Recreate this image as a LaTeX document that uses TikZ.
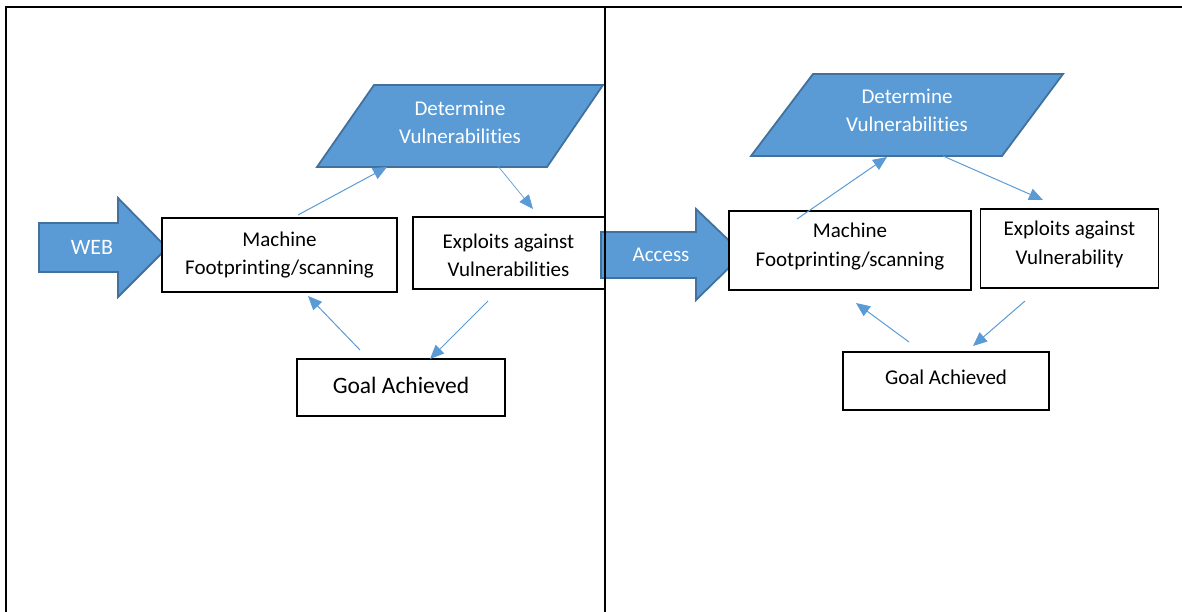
\documentclass[tikz,border=0pt]{standalone}
\usepackage{fontspec}
\setmainfont{Carlito}[Ligatures={NoCommon}]
\usetikzlibrary{arrows.meta}
\definecolor{accent}{HTML}{5B9BD5}
\definecolor{accentdark}{HTML}{41719C}
\newcommand{\twolines}[2]{\begin{tabular}{@{}c@{}}#1\\#2\end{tabular}}
% move text vertically without changing the size the node sees
\newcommand{\nudge}[2]{\raisebox{#1}[\height][\depth]{#2}}

\begin{document}
\begin{tikzpicture}[x=1pt,y=-1pt,
  frame/.style={line width=2.5pt,black,line cap=rect},
  box/.style={draw=black,line width=1.2pt,fill=white,inner sep=0pt,
    align=center,font=\fontsize{21}{28.5}\selectfont},
  flow/.style={draw=accent,line width=1pt,-{Triangle[length=14pt,width=12pt]}},
  shapefill/.style={fill=accent,draw=accentdark,line width=1.8pt,line join=miter},
  wlbl/.style={font=\fontsize{21}{28}\selectfont,align=center,inner sep=0pt,text=white},
]
\useasboundingbox (0,0) rectangle (1182,612);

% ---------- left panel ----------
\draw[shapefill] (317,167) -- (374,85) -- (603,85) -- (547,167) -- cycle;
\node[wlbl] (detL) at (460,122) {Determine\\Vulnerabilities};

\draw[shapefill] (39,223) -- (118,223) -- (118,198) -- (167,248) -- (118,297)
  -- (118,272) -- (39,272) -- cycle;
\node[wlbl,font=\fontsize{22}{28}\selectfont] (webL) at (92,247) {WEB};

\node[box,minimum width=235pt,minimum height=74pt] (machL) at (279.5,255)
  {\twolines{Machine}{Footprinting/scanning}};
\node[box,line width=2pt,minimum width=192pt,minimum height=72pt] (explL) at (508.5,253)
  {\nudge{-4pt}{\twolines{Exploits against}{Vulnerabilities}}};
\node[box,font=\fontsize{23.5}{28}\selectfont,minimum width=208pt,minimum height=57pt]
  (goalL) at (401,387.5) {\nudge{2pt}{Goal Achieved}};

\coordinate (aL1) at (298,215);  \coordinate (bL1) at (387,167);
\coordinate (aL2) at (493,160);  \coordinate (bL2) at (533,209);
\coordinate (aL3) at (360,350);  \coordinate (bL3) at (308,296);
\coordinate (aL4) at (488,301);  \coordinate (bL4) at (430,359);
\draw[flow] (aL1) -- (bL1);
\draw[flow,line width=0.7pt] (aL2) -- (bL2);
\draw[flow] (aL3) -- (bL3);
\draw[flow] (aL4) -- (bL4);

% ---------- right panel ----------
\draw[shapefill] (751,156) -- (813,74) -- (1063,74) -- (1002,156) -- cycle;
\node[wlbl] (detR) at (907,110) {Determine\\Vulnerabilities};

\draw[shapefill] (601,232) -- (696,232) -- (696,209) -- (743,254) -- (696,300)
  -- (696,278) -- (601,278) -- cycle;
\node[wlbl] (accR) at (661,255) {Access};

\node[box,minimum width=242pt,minimum height=79pt] (machR) at (850,250.5)
  {\nudge{4pt}{\twolines{Machine}{Footprinting/scanning}}};
\node[box,minimum width=178pt,minimum height=79pt] (explR) at (1069.5,248.5)
  {\nudge{4pt}{\twolines{Exploits against}{Vulnerability}}};
\node[box,minimum width=206pt,minimum height=58pt] (goalR) at (946,381)
  {\nudge{4pt}{Goal Achieved}};

\coordinate (aR1) at (797,219);  \coordinate (bR1) at (887,157);
\coordinate (aR2) at (943,156);  \coordinate (bR2) at (1043,200);
\coordinate (aR3) at (909,342);  \coordinate (bR3) at (856,303);
\coordinate (aR4) at (1025,301); \coordinate (bR4) at (973,346);
\draw[flow] (aR1) -- (bR1);
\draw[flow] (aR2) -- (bR2);
\draw[flow] (aR3) -- (bR3);
\draw[flow] (aR4) -- (bR4);

% ---------- frame ----------
\coordinate (fTL) at (6,7);
\coordinate (fTR) at (1182,7);
\coordinate (fBL) at (6,612);
\coordinate (fMT) at (605,7);
\coordinate (fMB) at (605,612);
\draw[frame] (fBL) -- (fTL) -- (fTR);
\draw[frame] (fMT) -- (fMB);
\end{tikzpicture}
\end{document}
